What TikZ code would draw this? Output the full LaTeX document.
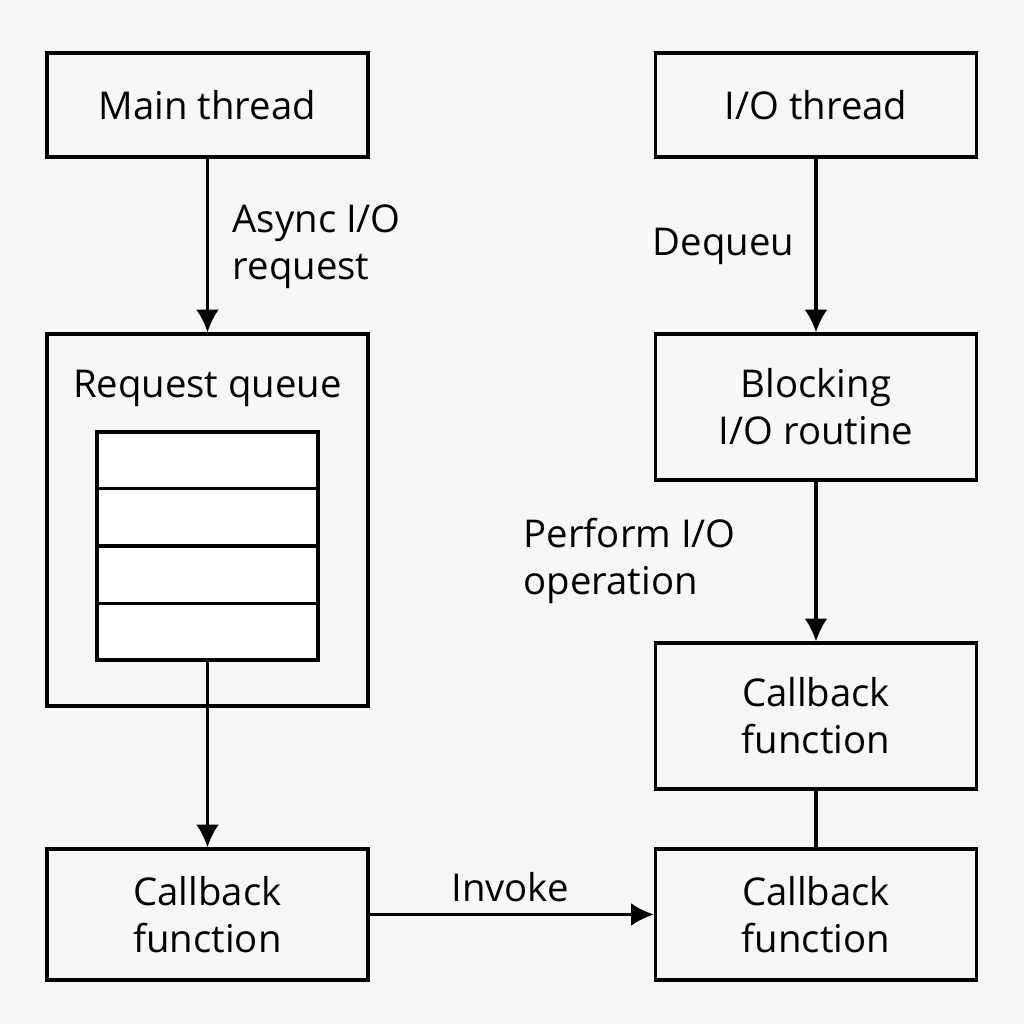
\documentclass[tikz,border=0pt]{standalone}
\usepackage{fontspec}
\setmainfont{Open Sans}
\usetikzlibrary{arrows.meta,calc}
\definecolor{paper}{HTML}{F7F7F7}
\tikzset{
  blockbox/.style={draw,line width=0.9pt,minimum width=3.21cm,align=center,inner sep=0pt},
  flow/.style={line width=0.9pt,-{Latex[length=6.5pt,width=6.5pt]}},
  note/.style={align=left,inner sep=0pt}
}
\begin{document}
\begin{tikzpicture}[font=\fontsize{10.9}{13.3}\selectfont]
      \fill[paper] (0,0) rectangle (10.24,10.24);
      \useasboundingbox (0,0) rectangle (10.24,10.24);
      % left column
      \node[blockbox, minimum height=1.04cm] (mainth) at (2.075,9.19) {Main thread};
      \node[blockbox, minimum height=3.72cm] (queue) at (2.075,5.04) {};
      \node[anchor=north] (qtitle) at ($(queue.north)+(0,-0.25)$) {Request queue};
      \node[draw, line width=0.9pt, fill=white, minimum width=2.21cm, minimum height=2.28cm] (slots) at (2.075,4.78) {};
      \foreach \i in {1,2,3}
        \draw[line width=0.9pt] ($(slots.north west)!\i/4!(slots.south west)$) -- ($(slots.north east)!\i/4!(slots.south east)$);
      \node[blockbox, minimum height=1.31cm] (cbmain) at (2.075,1.095) {Callback\\function};
      % right column
      \node[blockbox, minimum height=1.04cm] (ioth) at (8.16,9.19) {I/O thread};
      \node[blockbox, minimum height=1.46cm] (blockio) at (8.16,6.17) {Blocking\\I/O routine};
      \node[blockbox, minimum height=1.46cm] (cbio) at (8.16,3.08) {Callback\\function};
      \node[blockbox, minimum height=1.31cm] (cbinv) at (8.16,1.095) {Callback\\function};
      % connectors
      \draw[flow] (mainth) -- (queue);
      \draw[flow] (slots) -- (cbmain);
      \draw[flow] (ioth) -- (blockio);
      \draw[flow] (blockio) -- (cbio);
      \draw[line width=0.9pt] (cbio) -- (cbinv);
      \draw[flow] (cbmain) -- (cbinv);
      % labels
      \node[note, anchor=west] (lasync) at (2.32,7.77) {Async I/O\\request};
      \node[note, anchor=west] (ldeq) at (6.52,7.78) {Dequeu};
      \node[note, anchor=west] (lperf) at (5.23,4.63) {Perform I/O\\operation};
      \node[note, anchor=base] (linv) at (5.10,1.22) {Invoke};
\end{tikzpicture}
\end{document}
